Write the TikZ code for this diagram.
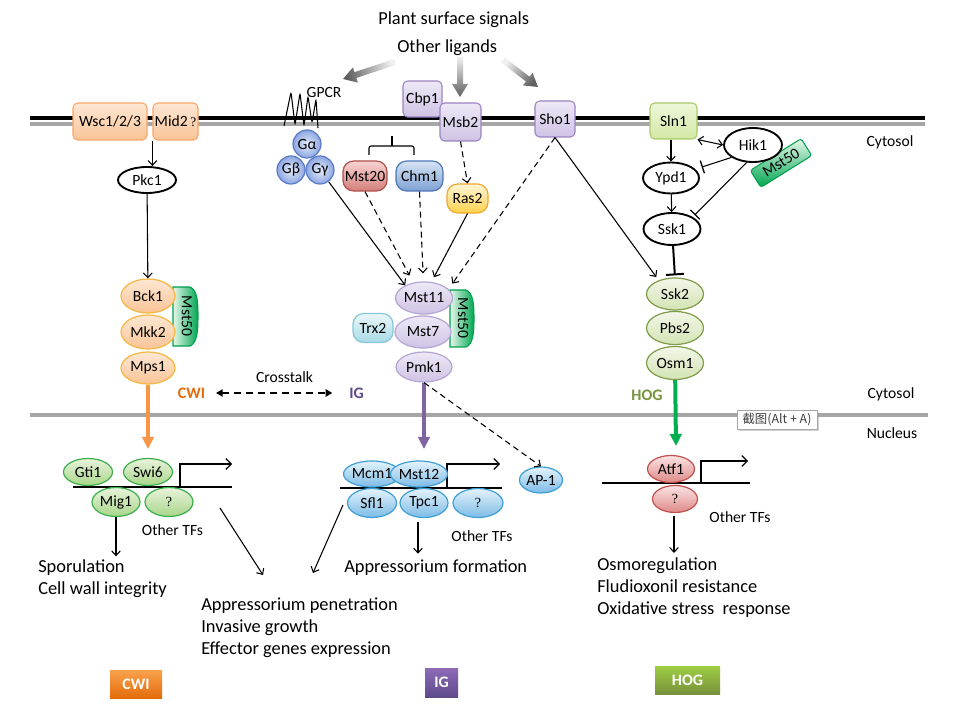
\documentclass[tikz,border=0pt]{standalone}
\usepackage{fontspec}
\setmainfont{Carlito}
\newfontfamily\cjkfont{Noto Sans CJK SC}
\newfontfamily\qfont{Liberation Serif}
\usetikzlibrary{shapes.geometric,arrows.meta,shadows}
\definecolor{memgray}{HTML}{A6A6A6}
\definecolor{cwiT}{HTML}{FDE7D3}
\definecolor{cwiB}{HTML}{F9C497}
\definecolor{cwiBd}{HTML}{F7A66A}
\definecolor{cwiEd}{HTML}{F6B740}
\definecolor{igT}{HTML}{EEE8F7}
\definecolor{igB}{HTML}{CFC3E4}
\definecolor{igBd}{HTML}{9A84C2}
\definecolor{igEd}{HTML}{B5A5D2}
\definecolor{slnT}{HTML}{EEF7DA}
\definecolor{slnB}{HTML}{D3E8A4}
\definecolor{slnBd}{HTML}{A8C86A}
\definecolor{hogT}{HTML}{F2F7E8}
\definecolor{hogB}{HTML}{D3E3B4}
\definecolor{hogEd}{HTML}{809C48}
\definecolor{gT}{HTML}{E6ECFA}
\definecolor{gB}{HTML}{8CA6E2}
\definecolor{gBd}{HTML}{5A7AC8}
\definecolor{m20T}{HTML}{F7D3D1}
\definecolor{m20B}{HTML}{D4807C}
\definecolor{m20Bd}{HTML}{B04E4A}
\definecolor{chT}{HTML}{D6E3F3}
\definecolor{chB}{HTML}{7FA2D4}
\definecolor{chBd}{HTML}{4D76B6}
\definecolor{rasT}{HTML}{FFF6D6}
\definecolor{rasB}{HTML}{FFD14D}
\definecolor{rasBd}{HTML}{F0A830}
\definecolor{trxT}{HTML}{EBF7FA}
\definecolor{trxB}{HTML}{A8D9E7}
\definecolor{trxBd}{HTML}{86C7D9}
\definecolor{tabL}{HTML}{E6F7EB}
\definecolor{tabR}{HTML}{00A650}
\definecolor{tabBd}{HTML}{00A04C}
\definecolor{ncT}{HTML}{E8F3DC}
\definecolor{ncB}{HTML}{A9D68A}
\definecolor{ncBd}{HTML}{3BB04A}
\definecolor{niT}{HTML}{E3F2FB}
\definecolor{niB}{HTML}{7DBCE6}
\definecolor{niBd}{HTML}{3E9FD6}
\definecolor{nhT}{HTML}{FBE4E3}
\definecolor{nhB}{HTML}{DE8A88}
\definecolor{nhBd}{HTML}{C0504D}
\definecolor{cwiArrow}{HTML}{F79646}
\definecolor{igArrow}{HTML}{8064A2}
\definecolor{hogArrow}{HTML}{00B050}
\definecolor{cwiLbl}{HTML}{E46C0A}
\definecolor{igLbl}{HTML}{604A8B}
\definecolor{hogLbl}{HTML}{77933C}
\definecolor{cwiBoxT}{HTML}{F9A24E}
\definecolor{cwiBoxB}{HTML}{E36C0A}
\definecolor{igBoxT}{HTML}{8E6BB8}
\definecolor{igBoxB}{HTML}{5E4A8A}
\definecolor{hogBoxT}{HTML}{A0CE42}
\definecolor{hogBoxB}{HTML}{76923C}
\begin{document}
\begin{tikzpicture}[x=0.75pt,y=-0.75pt,
  every node/.style={inner sep=0pt, font=\fontsize{11.7}{14}\selectfont},
  wh/.style 2 args={minimum width=#1*0.75pt, minimum height=#2*0.75pt},
  cwibox/.style={rectangle, rounded corners=3.5pt, draw=cwiBd, line width=0.8pt, top color=cwiT, bottom color=cwiB},
  cwiell/.style={ellipse, draw=cwiEd, line width=0.9pt, top color=cwiT, bottom color=cwiB},
  igbox/.style={rectangle, rounded corners=3.5pt, draw=igBd, line width=0.8pt, top color=igT, bottom color=igB},
  igell/.style={ellipse, draw=igEd, line width=0.9pt, top color=igT, bottom color=igB},
  slnbox/.style={rectangle, rounded corners=3.5pt, draw=slnBd, line width=0.8pt, top color=slnT, bottom color=slnB},
  hogell/.style={ellipse, draw=hogEd, line width=0.9pt, top color=hogT, bottom color=hogB},
  blk/.style={ellipse, draw=black, line width=1.4pt, fill=white},
  gball/.style={circle, draw=gBd, line width=0.9pt, inner color=gT, outer color=gB, minimum size=28*0.75pt},
  pill/.style={rectangle, rounded corners=8pt, line width=0.9pt},
  mstab/.style={line width=0.8pt, draw=tabBd, left color=tabL, right color=tabR},
  conn/.style={line width=0.8pt, -{Straight Barb[length=3.5pt,width=6.5pt]}},
  dconn/.style={conn, dash pattern=on 4.5pt off 3pt},
  inh/.style={line width=0.8pt, -{Bar[width=10pt,line width=1pt]}},
  big/.style={font=\fontsize{13.8}{17}\selectfont, anchor=base west},
  mod/.style={font=\fontsize{12}{14}\selectfont\bfseries},
  fat/.style={line width=3pt, -{Triangle[length=9pt,width=8.5pt]}},
  tfc/.style={ellipse, draw=ncBd, line width=0.9pt, top color=ncT, bottom color=ncB},
  tfi/.style={ellipse, draw=niBd, line width=0.9pt, top color=niT, bottom color=niB},
  tfh/.style={ellipse, draw=nhBd, line width=0.9pt, top color=nhT, bottom color=nhB},
  qm/.style={font=\qfont\fontsize{10.5}{12}\selectfont},
  legbox/.style={rectangle, text=white, font=\fontsize{12}{14}\selectfont\bfseries},
]
\useasboundingbox (0,0) rectangle (960,712);
\fill[white] (0,0) rectangle (960,712);

% membranes
\draw[line width=2.6pt, black] (30,118) -- (925,118);
\draw[line width=3pt, memgray] (30,124) -- (925,124);
\draw[line width=3.4pt, memgray] (30,415) -- (928,415);

\node (cyt1) at (890,142) {Cytosol};
\node (cyt2) at (891,394) {Cytosol};
\node (nuc) at (892,433) {Nucleus};

% top signals
\node[big] (pss) at (378,25) {Plant surface signals};
\node[big] (ol) at (397,53) {Other ligands};
\shade[top color=gray!12, bottom color=gray!75!black, shading angle=288]
  (394.1,59.1) -- (354.5,72.1) -- (352.9,67.4) -- (343,79) -- (357.9,82.6) -- (356.3,77.9) -- (395.9,64.9) -- cycle;
\shade[top color=gray!12, bottom color=gray!75!black]
  (457,57) -- (463,57) -- (463,84) -- (468,84) -- (460,97) -- (452,84) -- (457,84) -- cycle;
\shade[top color=gray!12, bottom color=gray!75!black, shading angle=52]
  (504.8,57.6) -- (529.5,76.7) -- (532.6,72.8) -- (538,87) -- (522.8,85.4) -- (525.9,81.5) -- (501.2,62.4) -- cycle;

% ---------------- CWI ----------------
\node[cwibox, wh={74}{37}] (wsc) at (110,121.5) {Wsc1/2/3};
\node[cwibox, wh={45}{37}] (mid2) at (175.5,121.5) {Mid2\,{\qfont\fontsize{10}{12}\selectfont ?}};
\node[blk, wh={58}{26}] (pkc1) at (147,180) {Pkc1};
\draw[conn] (mid2.south west) -- (mid2.south west |- pkc1.north);

\draw[mstab] (173,287) -- (190,287) .. controls (197,290) and (198,300) .. (198,316) .. controls (198,332) and (197,343) .. (190,346) -- (173,346) -- cycle;
\node[rotate=-90] (m50a) at (187,316) {Mst50};
\node[cwiell, wh={54}{34}] (bck1) at (148,296) {Bck1};
\node[cwiell, wh={54}{34}] (mkk2) at (148,332) {Mkk2};
\node[cwiell, wh={54}{32}] (mps1) at (148,368) {Mps1};
\draw[conn] (pkc1) -- (bck1);
\coordinate (cwiend) at (148,449);
\draw[fat, cwiArrow] (mps1) -- (cwiend);

\node[mod, text=cwiLbl] (cwil) at (191.5,393) {CWI};
\node (xt) at (284.5,377) {Crosstalk};
\node[mod, text=igLbl] (igl) at (356.5,393) {IG};
\draw[line width=1.2pt, dash pattern=on 5pt off 4pt, shorten <=8pt, shorten >=12.5pt,
  {Triangle[length=5pt,width=5.5pt]}-{Triangle[length=5pt,width=5.5pt]}] (cwil.east) -- (igl.west);

% ---------------- IG ----------------
\draw[line width=0.8pt, rounded corners=2pt] (284,126) -- (291,92) -- (295,125) -- (300,93) -- (304,126) -- (308,96) -- (312,123) -- (316,99) -- (318,128);
\node (gpcr) at (324,92) {GPCR};
\node[gball] (ga) at (307,144) {Gα};
\node[gball] (gb) at (291,170) {Gβ};
\node[gball] (gg) at (320,170) {Gγ};

\node[igbox, wh={39}{36}] (cbp1) at (422.5,99) {Cbp1};
\node[igbox, wh={41}{38}] (msb2) at (460.5,122) {Msb2};
\node[igbox, wh={40}{36}] (sho1) at (555,119) {Sho1};

\draw[line width=0.8pt, rounded corners=1.5pt] (369,155) -- (369,146) -- (414,146) -- (414,155);
\draw[line width=0.8pt] (392,146) -- (392,136);
\node[pill, draw=m20Bd, top color=m20T, bottom color=m20B, wh={44}{30}] (mst20) at (365,176) {Mst20};
\node[pill, draw=chBd, top color=chT, bottom color=chB, wh={47}{30}] (chm1) at (419.5,176) {Chm1};
\node[pill, draw=rasBd, top color=rasT, bottom color=rasB, wh={41}{29}] (ras2) at (467.5,198.5) {Ras2};

\draw[mstab] (450,290) -- (466,290) .. controls (473,293) and (474,303) .. (474,318) .. controls (474,334) and (473,344) .. (466,347) -- (450,347) -- cycle;
\node[rotate=-90] (m50b) at (463,318) {Mst50};
\node[igell, wh={56}{32}] (mst11) at (424,298) {Mst11};
\node[igell, wh={56}{32}] (mst7) at (423,332) {Mst7};
\node[igell, wh={56}{30}] (pmk1) at (424,367) {Pmk1};
\node[pill, draw=trxBd, top color=trxT, bottom color=trxB, wh={40}{29}] (trx2) at (373,328) {Trx2};

\draw[conn] (gg) -- (mst11.146);
\draw[dconn, shorten >=6pt] (mst20.south) -- (mst11.125);
\draw[dconn, shorten >=6pt] (chm1.south) -- (mst11.92);
\draw[conn, shorten >=4pt] (ras2.south) -- (mst11.65);
\draw[dconn, shorten >=5pt] (sho1.south) -- (mst11.20);
\draw[dconn] (msb2.south) -- (ras2.north);
\coordinate (igend) at (424,449);
\draw[fat, igArrow] (pmk1) -- (igend);

% ---------------- HOG ----------------
\node[slnbox, wh={47}{36}] (sln1) at (673.5,121) {Sln1};
\node[rectangle, rotate=32, wh={60}{20}, draw=tabBd, line width=0.8pt, top color=tabL, bottom color=tabR, rounded corners=2pt] (m50c) at (781,163) {Mst50};
\node[blk, wh={58}{34}] (hik1) at (753,145) {Hik1};
\node[blk, wh={56}{31}] (ypd1) at (671,178) {Ypd1};
\node[blk, wh={57}{32}] (ssk1) at (672,229) {Ssk1};
\node[hogell, wh={57}{32}] (ssk2) at (675,294) {Ssk2};
\node[hogell, wh={57}{33}] (pbs2) at (675,328) {Pbs2};
\node[hogell, wh={57}{33}] (osm1) at (675,363) {Osm1};

\draw[conn] (sln1.south -| ypd1.north) -- (ypd1.north);
\draw[conn] (ypd1) -- (ssk1);
\draw[line width=0.8pt, {Straight Barb[length=3.5pt,width=6.5pt]}-{Straight Barb[length=3.5pt,width=6.5pt]}] (sln1.south east) -- (hik1.west);
\draw[inh, shorten >=5pt] (hik1.210) -- (ypd1.20);
\draw[inh, shorten >=2pt] (hik1.250) -- (ssk1.30);
\draw[line width=1.5pt, -{Bar[width=13.5pt,line width=1.5pt]}, shorten >=1.5pt] (ssk1) -- (ssk2.north);
\draw[conn, shorten >=3pt] (sho1.south) -- (ssk2.140);
\coordinate (hogend) at (676,446);
\draw[fat, hogArrow] (osm1) -- (hogend);
\node[mod, text=hogLbl] (hogl) at (647,395) {HOG};

\node[rectangle, draw=gray!70, fill=white, wh={80}{19}, drop shadow={opacity=0.35, shadow xshift=1.3pt, shadow yshift=-1.3pt}, font=\cjkfont\fontsize{9.3}{11}\selectfont, text=black!75] (tip) at (777,419.5) {截图(Alt + A)};

% ---------------- Nucleus: CWI ----------------
\draw[line width=0.9pt] (73,487) -- (232,487);
\draw[line width=0.9pt, -{Straight Barb[length=4pt,width=8pt]}] (180,487) -- (180,464) -- (232,464);
\node[tfc, wh={49}{27}] (gti1) at (88,472) {Gti1};
\node[tfc, wh={49}{27}] (swi6) at (148,472) {Swi6};
\node[tfc, wh={48}{29}] (mig1) at (116,502) {Mig1};
\node[tfc, wh={48}{29}, qm] (q1) at (169,502) {?};
\node (otf1) at (172.5,530) {Other TFs};
\node[big] (spo) at (38,572) {Sporulation};
\node[big] (cwi2) at (38,594) {Cell wall integrity};
\draw[conn, shorten >=2pt] (mig1.south) -- (mig1.south |- spo.north);

% ---------------- Nucleus: IG ----------------
\draw[line width=0.9pt] (340,488) -- (502,488);
\draw[line width=0.9pt, -{Straight Barb[length=4pt,width=8pt]}] (447,488) -- (447,464) -- (500,464);
\node[tfi, wh={49}{26}] (mcm1) at (372,474) {Mcm1};
\node[tfi, wh={48}{26}] (mst12) at (419,474) {Mst12};
\node[tfi, wh={49}{29}] (sfl1) at (372,503) {Sfl1};
\node[tfi, wh={48}{29}] (tpc1) at (424,503) {Tpc1};
\node[tfi, wh={50}{29}, qm] (q2) at (478,503) {?};
\node[tfi, wh={43}{26}] (ap1) at (541,480) {AP-1};
\node (otf2) at (482,536) {Other TFs};
\node[big] (apf) at (344,572) {Appressorium formation};
\draw[conn, shorten <=3pt, shorten >=4pt] (tpc1.south -| 418,0) -- (apf.north -| 418,0);
\draw[dconn] (pmk1.south) -- (ap1.north);

\node[big] (app1) at (201,610) {Appressorium penetration};
\node[big] (app2) at (201,632) {Invasive growth};
\node[big] (app3) at (201,654) {Effector genes expression};
\coordinate (cwiout) at (220,508);
\coordinate (cwiin) at (263,575);
\coordinate (igout) at (343,505);
\coordinate (igin) at (313,573);
\draw[conn] (cwiout) -- (cwiin);
\draw[conn] (igout) -- (igin);

% ---------------- Nucleus: HOG ----------------
\draw[line width=0.9pt] (602,483) -- (750,483);
\draw[line width=0.9pt, -{Straight Barb[length=4pt,width=8pt]}] (701,483) -- (701,461) -- (748,461);
\node[tfh, wh={47}{27}] (atf1) at (671,469) {Atf1};
\node[tfh, wh={45}{27}, qm] (q3) at (675,499) {?};
\node (otf3) at (740,517) {Other TFs};
\node[big] (osm) at (597,570) {Osmoregulation};
\node[big] (flu) at (597,592) {Fludioxonil resistance};
\node[big] (oxi) at (597,614) {Oxidative stress\ \ response};
\draw[conn, shorten <=2pt, shorten >=3pt] (q3.south -| 674,0) -- (osm.north -| 674,0);

% ---------------- legend boxes ----------------
\node[legbox, wh={52}{28}, top color=cwiBoxT, bottom color=cwiBoxB] (lcwi) at (136,684) {CWI};
\node[legbox, wh={33}{29}, top color=igBoxT, bottom color=igBoxB] (lig) at (441.5,682.5) {IG};
\node[legbox, wh={65}{28}, top color=hogBoxT, bottom color=hogBoxB] (lhog) at (687.5,680) {HOG};
\end{tikzpicture}
\end{document}
